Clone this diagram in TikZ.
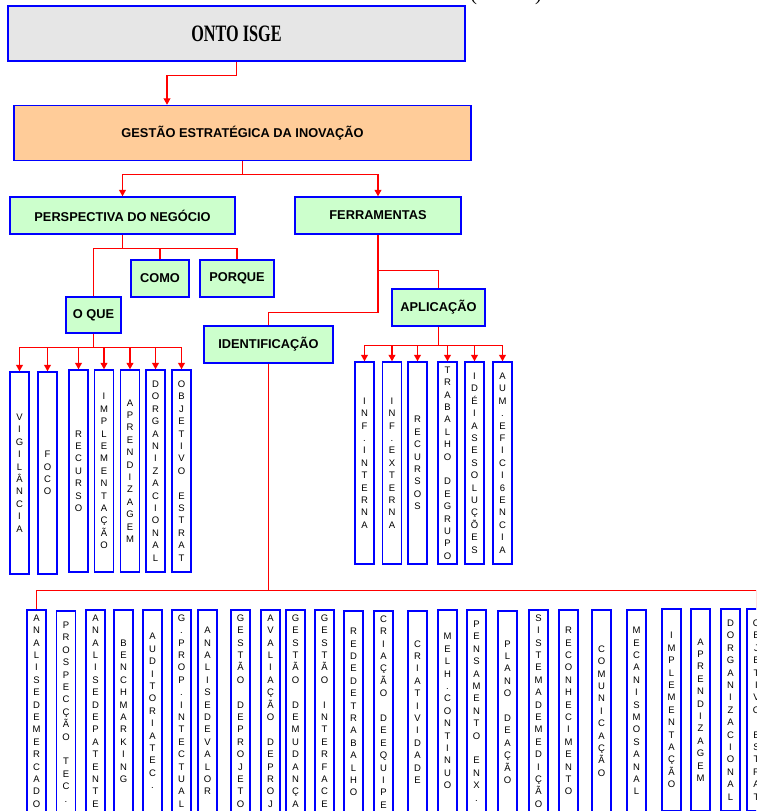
\documentclass[tikz,border=0pt]{standalone}
\usepackage{fontspec}
\setmainfont{Liberation Sans}
\newfontfamily\timesfont{Liberation Serif}
\usepackage{graphicx}
\usetikzlibrary{arrows.meta}

\definecolor{ontoGray}{RGB}{230,230,230}
\definecolor{peach}{RGB}{255,204,153}
\definecolor{mint}{RGB}{204,255,204}

% letters stacked one under the other
\newcommand\vst[1]{\vstB#1\relax}
\def\vstB#1{#1\vstA}
\def\vstA#1{\ifx#1\relax\else\\#1\expandafter\vstA\fi}

\tikzstyle{root} = [rectangle, draw=blue, line width=1.5pt, fill=ontoGray,
inner sep=0pt, font=\timesfont\bfseries\fontsize{23.5}{26}\selectfont]
\tikzstyle{strategy} = [rectangle, draw=blue, line width=1.5pt, fill=peach,
inner sep=0pt, font=\bfseries\fontsize{12.8}{15}\selectfont]
\tikzstyle{topic} = [rectangle, draw=blue, line width=1.5pt, fill=mint,
inner sep=0pt, minimum height=37pt, font=\bfseries\fontsize{12.8}{15}\selectfont]
\tikzstyle{leaf} = [rectangle, draw=blue, line width=1.5pt, fill=white,
inner sep=0pt, minimum width=19pt, minimum height=202pt, align=center,
font=\fontsize{9.5}{12.4}\selectfont]
\tikzstyle{arrow} = [red, line width=1.1pt, -{Triangle[width=7pt,length=6.5pt]}]
\tikzstyle{link} = [red, line width=1.1pt]

\begin{document}
\begin{tikzpicture}[x=1pt, y=-1pt]
\useasboundingbox (0,0) rectangle (756,811);
\clip (0,0) rectangle (756,811);

\node(paren)[anchor=base, font=\timesfont\fontsize{20}{24}\selectfont] at (506,1){(\hspace{58pt})};

\node(onto)[root, minimum width=457pt, minimum height=55pt] at (236.5,33.5){\scalebox{0.69}[1]{ONTO ISGE}};
\node(gestao)[strategy, minimum width=457pt, minimum height=55pt] at (242.5,133){GESTÃO ESTRATÉGICA DA INOVAÇÃO};

\node(persp)[topic, minimum width=225pt] at (122.5,215.5){PERSPECTIVA DO NEGÓCIO};
\node(ferram)[topic, minimum width=166pt] at (378,215.5){FERRAMENTAS};
\node(como)[topic, minimum width=58pt] at (160,278.5){COMO};
\node(porque)[topic, minimum width=74pt] at (237,278.5){PORQUE};
\node(oQue)[topic, minimum width=55pt, minimum height=36pt] at (93.5,315){O QUE};
\node(aplic)[topic, minimum width=93pt] at (438.5,307.5){APLICAÇÃO};
\node(ident)[topic, minimum width=129pt] at (268.5,344.5){IDENTIFICAÇÃO};

% o que
\node(q1)[leaf] at (19.5,473){\vst{VIGILÂNCIA}};
\node(q2)[leaf] at (47.5,473){\vst{FOCO}};
\node(q3)[leaf] at (78.5,471){\vst{RECURSO}};
\node(q4)[leaf] at (104,471){\vst{IMPLEMENTAÇÃO}};
\node(q5)[leaf] at (130,471){\vst{APRENDIZAGEM}};
\node(q6)[leaf] at (155.5,471){\vst{DORGANIZACIONAL}};
\node(q7)[leaf] at (181.5,471){\vst{OBJETIVO~ESTRAT}};

% aplicacao
\node(a1)[leaf] at (364.5,463){\vst{INF.INTERNA}};
\node(a2)[leaf] at (392,463){\vst{INF.EXTERNA}};
\node(a3)[leaf] at (417.5,463){\vst{RECURSOS}};
\node(a4)[leaf] at (447.5,463){\vst{TRABALHO~DEGRUPO}};
\node(a5)[leaf] at (474.5,463){\vst{IDÉIASESOLUÇÕES}};
\node(a6)[leaf] at (502.5,463){\vst{AUM.EFICI6ENCIA}};

% identificacao
\node(i1)[leaf] at (36.5,711){\vst{ANALISEDEMERCADO}};
\node(i2)[leaf] at (66,712){\vst{PROSPECÇÃO~TEC.}};
\node(i3)[leaf] at (95.5,711){\vst{ANALISEDEPATENTE}};
\node(i4)[leaf] at (123.5,711){\vst{BENCHMARKING}};
\node(i5)[leaf] at (152.5,711){\vst{AUDITORIATEC.}};
\node(i6)[leaf] at (181.5,711){\vst{G.PROP.INTECTUAL}};
\node(i7)[leaf] at (207.5,711){\vst{ANALISEDEVALOR}};
\node(i8)[leaf] at (240.5,711){\vst{GESTÃO~DEPROJETO}};
\node(i9)[leaf] at (270.5,711){\vst{AVALIAÇÃO~DEPROJ}};
\node(i10)[leaf] at (295.5,711){\vst{GESTÃO~DEMUDANÇA}};
\node(i11)[leaf] at (324.5,711){\vst{GESTÃO~INTERFACE}};
\node(i12)[leaf] at (353.5,712){\vst{REDEDETRABALHO}};
\node(i13)[leaf] at (383.5,712){\vst{CRIAÇÃO~DEEQUIPE}};
\node(i14)[leaf] at (417.5,712){\vst{CRIATIVIDADE}};
\node(i15)[leaf] at (447.5,711){\vst{MELH.CONTINUO}};
\node(i16)[leaf] at (476.5,711){\vst{PENSAMENTO~ENX.}};
\node(i17)[leaf] at (507.5,712){\vst{PLANO~DEAÇÃO}};
\node(i18)[leaf] at (538.5,711){\vst{SISTEMADEMEDIÇÃO}};
\node(i19)[leaf] at (568.5,711){\vst{RECONHECIMENTO}};
\node(i20)[leaf] at (601.5,711){\vst{COMUNICAÇÃO}};
\node(i21)[leaf] at (636.5,711){\vst{MECANISMOSANAL}};
\node(i22)[leaf] at (671.5,710){\vst{IMPLEMENTAÇÃO}};
\node(i23)[leaf] at (700.5,710){\vst{APRENDIZAGEM}};
\node(i24)[leaf] at (730.5,710){\vst{DORGANIZACIONAL}};
\node(i25)[leaf] at (756.5,710){\vst{OBJETIVO~ESTRAT}};

\draw[arrow](onto.south) -- ++(0,14) -| ([xshift=-75.5pt]gestao.north);
\draw[arrow](gestao.south) -- ++(0,13) -| (persp.north);
\draw[arrow](gestao.south) -- ++(0,13) -| (ferram.north);

\draw[link](persp.south) -- ++(0,14) -| (oQue.north);
\draw[link](persp.south) -- ++(0,14) -| (como.north);
\draw[link](persp.south) -- ++(0,14) -| (porque.north);

\draw[link](ferram.south) -- ++(0,36) -| (aplic.north);
\draw[link](ferram.south) -- ++(0,78) -| (ident.north);

\draw[arrow](oQue.south) -- ++(0,14) -| (q1.north);
\draw[arrow](oQue.south) -- ++(0,14) -| (q2.north);
\draw[arrow](oQue.south) -- ++(0,14) -| (q3.north);
\draw[arrow](oQue.south) -- ++(0,14) -| (q4.north);
\draw[arrow](oQue.south) -- ++(0,14) -| (q5.north);
\draw[arrow](oQue.south) -- ++(0,14) -| (q6.north);
\draw[arrow](oQue.south) -- ++(0,14) -| (q7.north);

\draw[arrow](aplic.south) -- ++(0,19) -| (a1.north);
\draw[arrow](aplic.south) -- ++(0,19) -| (a2.north);
\draw[arrow](aplic.south) -- ++(0,19) -| (a3.north);
\draw[arrow](aplic.south) -- ++(0,19) -| (a4.north);
\draw[arrow](aplic.south) -- ++(0,19) -| (a5.north);
\draw[arrow](aplic.south) -- ++(0,19) -| (a6.north);

\draw[link](ident.south) -- ++(0,227) -| (i1.north);
\draw[link](ident.south) -- ++(0,227) -| (i25.north);

\end{tikzpicture}
\end{document}
